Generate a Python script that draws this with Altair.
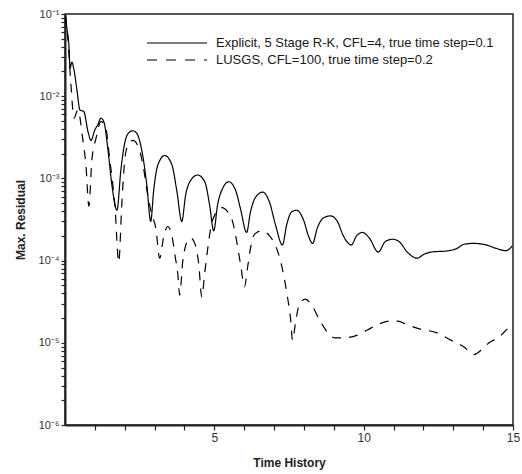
import altair as alt
import pandas as pd

series_names = ["Explicit, 5 Stage R-K, CFL=4, true time step=0.1",
                "LUSGS, CFL=100, true time step=0.2"]

rk_t = [0.02, 0.07, 0.13, 0.17, 0.23, 0.30, 0.40, 0.50, 0.63, 0.77, 0.87, 1.00, 1.10, 1.20, 1.30,
        1.44, 1.57, 1.74, 1.87, 2.00, 2.14, 2.27, 2.41, 2.57, 2.74, 2.87, 2.97, 3.11, 3.34, 3.58,
        3.74, 3.91, 4.04, 4.21, 4.44, 4.68, 4.84, 4.98, 5.11, 5.28, 5.48, 5.71, 5.88, 6.08, 6.21,
        6.38, 6.62, 6.85, 7.05, 7.28, 7.42, 7.58, 7.75, 7.99, 8.15, 8.29, 8.45, 8.65, 8.89, 9.12,
        9.32, 9.59, 9.76, 9.96, 10.19, 10.49, 10.72, 10.96, 11.19, 11.46, 11.79, 12.03, 12.26,
        12.86, 13.13, 13.36, 13.70, 14.10, 14.43, 14.77, 14.90, 14.97]
rk_r = [0.089, 0.064, 0.042, 0.022, 0.026, 0.021, 0.0119, 0.0068, 0.0065, 0.0037, 0.0029, 0.0039,
        0.0045, 0.0054, 0.0049, 0.0022, 0.00083, 0.00041, 0.00126, 0.0027, 0.0036, 0.0038, 0.0035,
        0.0022, 0.00083, 0.00030, 0.00072, 0.00146, 0.0019, 0.00146, 0.00072, 0.00030, 0.00063,
        0.00095, 0.0011, 0.00091, 0.00048, 0.00023, 0.00048, 0.00076, 0.00091, 0.00072, 0.00042,
        0.00022, 0.00039, 0.00059, 0.00068, 0.00051, 0.00027, 0.000155, 0.00027, 0.00039, 0.00041,
        0.00031, 0.00020, 0.000162, 0.00025, 0.00033, 0.00035, 0.00030, 0.00020, 0.000155, 0.00020,
        0.00022, 0.000188, 0.000127, 0.00017, 0.000182, 0.00017, 0.000127, 0.000107, 0.00012,
        0.000127, 0.000132, 0.000141, 0.000158, 0.000162, 0.000155, 0.000141, 0.000132, 0.000141,
        0.000151]

lu_t = [0.02, 0.10, 0.20, 0.30, 0.43, 0.60, 0.70, 0.80, 0.90, 1.04, 1.20, 1.34, 1.50, 1.67, 1.80,
        1.90, 2.00, 2.10, 2.27, 2.44, 2.61, 2.77, 2.91, 3.04, 3.17, 3.31, 3.44, 3.58, 3.68, 3.78,
        3.84, 3.94, 4.08, 4.21, 4.34, 4.48, 4.58, 4.68, 4.78, 4.88, 5.05, 5.25, 5.45, 5.61, 5.75,
        5.88, 6.01, 6.11, 6.21, 6.35, 6.58, 6.85, 7.15, 7.32, 7.45, 7.55, 7.62, 7.72, 7.85, 8.05,
        8.29, 8.52, 8.72, 9.02, 9.36, 9.79, 10.12, 10.46, 10.86, 11.13, 11.46, 11.86, 12.46, 12.93,
        13.36, 13.70, 13.93, 14.20, 14.53, 14.73, 14.97]
lu_r = [0.095, 0.048, 0.0137, 0.0054, 0.0068, 0.0029, 0.00146, 0.00046, 0.00168, 0.0031, 0.0049,
        0.0045, 0.00168, 0.00047, 0.000096, 0.00047, 0.00168, 0.0025, 0.0029, 0.0025, 0.00146,
        0.00063, 0.00036, 0.00025, 0.000107, 0.00020, 0.00026, 0.00020, 0.000117, 0.000067,
        0.000038, 0.000096, 0.000168, 0.000188, 0.000164, 0.000089, 0.000036, 0.000072, 0.000141,
        0.00025, 0.00038, 0.00044, 0.00039, 0.00030, 0.00017, 0.000089, 0.000048, 0.000081,
        0.000141, 0.00021, 0.00023, 0.00020, 0.00012, 0.000067, 0.000036, 0.000020, 0.0000107,
        0.0000178, 0.0000295, 0.000034, 0.0000275, 0.000019, 0.0000145, 0.0000115, 0.0000115,
        0.0000124, 0.0000143, 0.0000166, 0.0000184, 0.0000184, 0.0000166, 0.0000148, 0.0000132,
        0.0000107, 0.0000089, 0.0000072, 0.0000081, 0.0000100, 0.0000117, 0.0000138, 0.0000166]

# tick positions: decades (labelled) plus log minor ticks; integer time ticks
y_ticks = [m * d for d in [1e-6, 1e-5, 1e-4, 1e-3, 1e-2] for m in range(1, 10)] + [1e-1]
x_ticks = list(range(1, 16))

W, H = 448, 411
FONT = "Liberation Sans"
INK = "#222222"

df = pd.concat([
    pd.DataFrame({"t": rk_t, "r": rk_r, "s": series_names[0]}),
    pd.DataFrame({"t": lu_t, "r": lu_r, "s": series_names[1]}),
])

is_decade = "abs(log(datum.value)/LN10 - round(log(datum.value)/LN10)) < 0.001"

xaxis = alt.Axis(
    title="Time History", values=x_ticks, ticks=True, tickSize=5, tickColor=INK, tickWidth=1.2,
    grid=False,
    labelExpr="datum.value % 5 === 0 ? datum.label : ''",
    labelFontSize=12, labelFont=FONT, labelColor="#333", labelPadding=2,
    titleFont=FONT, titleFontSize=12, titleFontWeight="bold", titleColor=INK,
    titleY=37, titleBaseline="middle", domainColor=INK, domainWidth=2,
    labelFlush=False)
yaxis = alt.Axis(
    title="Max. Residual", values=y_ticks, ticks=True, tickSize=4, tickColor=INK, tickWidth=1.2,
    grid=False,
    labelExpr="(" + is_decade + ") ? '10' + ['\u2070','\u207b\u00b9','\u207b\u00b2','\u207b\u00b3','\u207b\u2074','\u207b\u2075','\u207b\u2076'][round(-log(datum.value)/LN10)] : ''",
    labelFontSize=11, labelFont=FONT, labelColor="#333", labelPadding=2,
    titleFont=FONT, titleFontSize=12, titleFontWeight="bold", titleColor=INK,
    titleX=-45, titleY=H / 2, titleBaseline="middle", domainColor=INK, domainWidth=2,
    labelFlush=False)

lines = alt.Chart(df).mark_line(color="black", strokeWidth=1.2, clip=True,
                                interpolate="monotone").encode(
    x=alt.X("t:Q", scale=alt.Scale(domain=[0, 15], nice=False, zero=False), axis=xaxis),
    y=alt.Y("r:Q", scale=alt.Scale(type="log", domain=[1e-6, 1e-1], nice=False), axis=yaxis),
    strokeDash=alt.StrokeDash("s:N", scale=alt.Scale(domain=series_names, range=[[1, 0], [9, 8]]),
                              legend=None),
    detail="s:N",
)

leg_y = [29, 46]
leg_solid = alt.Chart(pd.DataFrame({"a": [0]})).mark_rule(color="black", strokeWidth=1.2).encode(
    x=alt.value(82), x2=alt.value(142), y=alt.value(leg_y[0]))
leg_dash = alt.Chart(pd.DataFrame({"a": [0]})).mark_rule(color="black", strokeWidth=1.2,
                                                         strokeDash=[10, 9]).encode(
    x=alt.value(82), x2=alt.value(142), y=alt.value(leg_y[1]))
leg_t1 = alt.Chart(pd.DataFrame({"a": [0]})).mark_text(
    align="left", baseline="middle", font=FONT, fontSize=13, color="#1a1a1a").encode(
    x=alt.value(151), y=alt.value(leg_y[0]), text=alt.value(series_names[0]))
leg_t2 = alt.Chart(pd.DataFrame({"a": [0]})).mark_text(
    align="left", baseline="middle", font=FONT, fontSize=13, color="#1a1a1a").encode(
    x=alt.value(151), y=alt.value(leg_y[1]), text=alt.value(series_names[1]))

chart = alt.layer(lines, leg_solid, leg_dash, leg_t1, leg_t2).properties(
    width=W, height=H,
    autosize=alt.AutoSizeParams(type="none"),
    padding={"left": 65, "top": 14, "right": 9, "bottom": 49},
    background="white",
).configure_view(stroke=INK, strokeWidth=1.5)

chart.save("out.html", embed_options={"renderer": "svg", "actions": False})
